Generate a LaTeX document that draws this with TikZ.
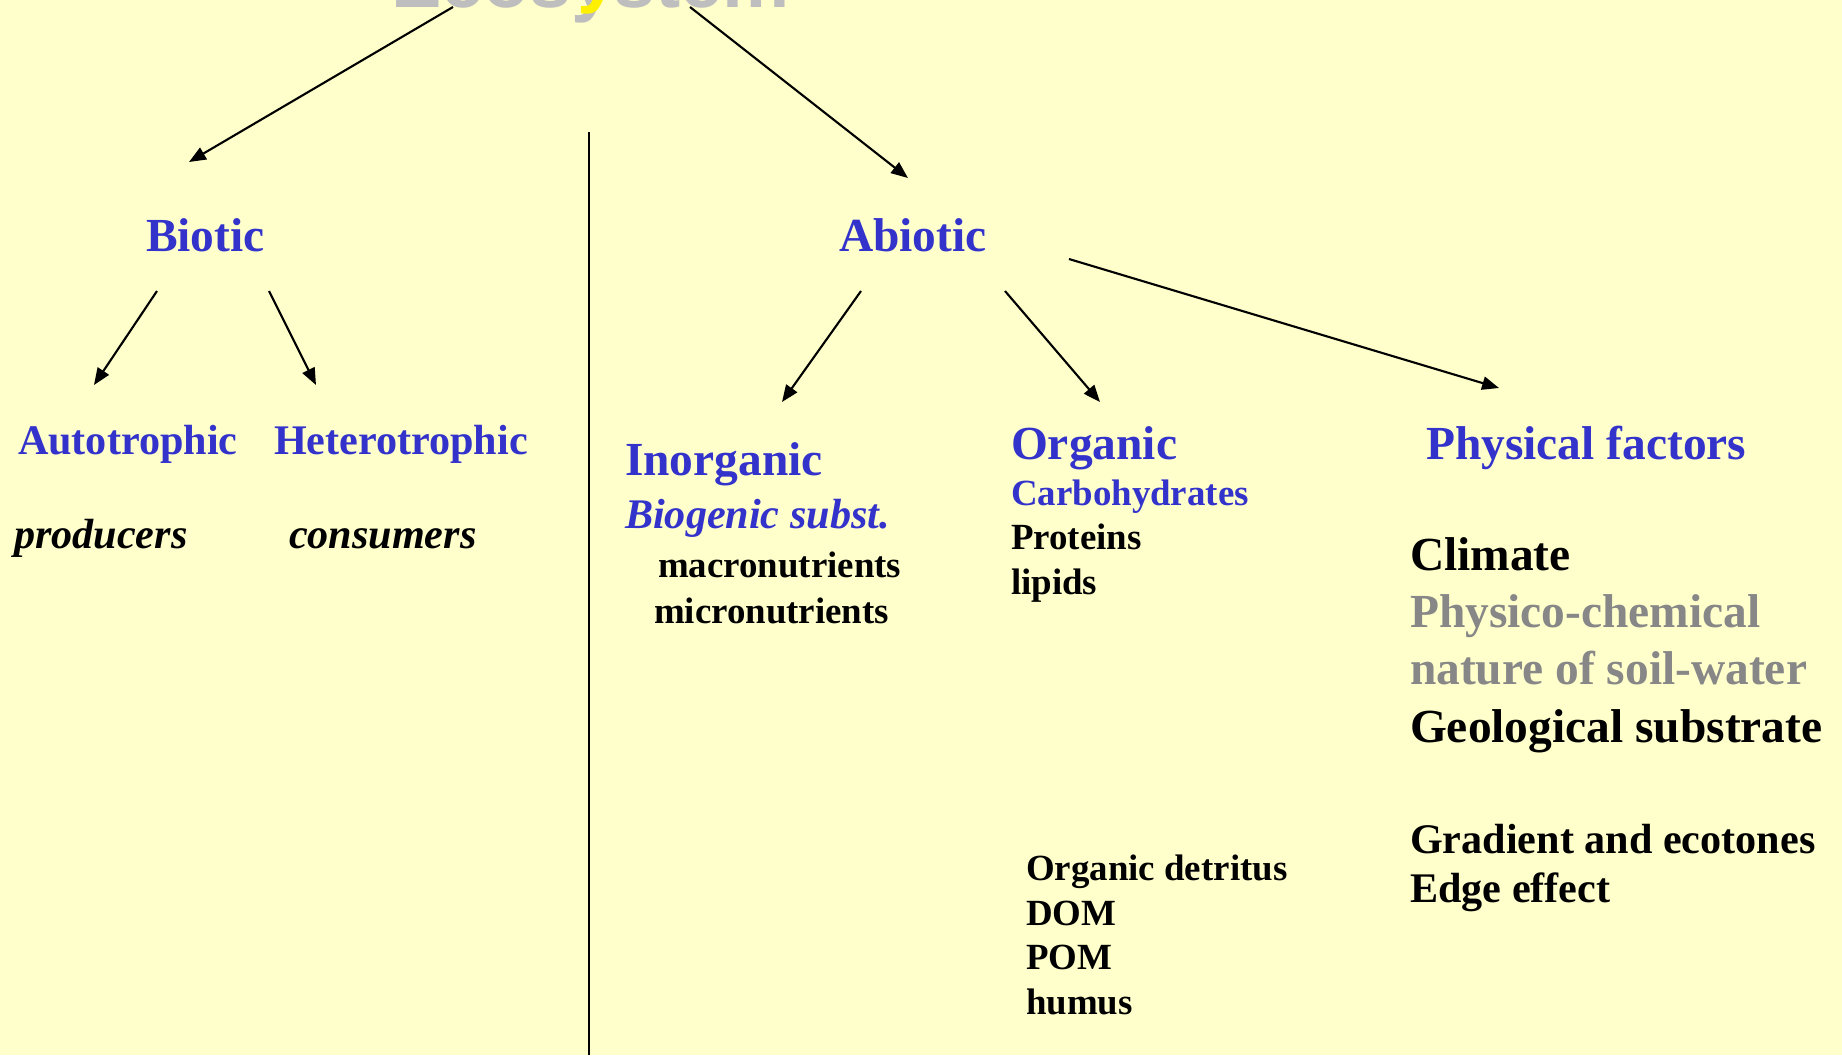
\documentclass[tikz,border=0pt]{standalone}
\usepackage{fontspec}
\setmainfont{Liberation Serif}
\newfontfamily\titlefont{Liberation Sans}
\usetikzlibrary{calc}
\usetikzlibrary{arrows.meta}
\definecolor{slide}{HTML}{FFFFCC}
\definecolor{headblue}{HTML}{3333CC}
\definecolor{softgray}{HTML}{878787}
\definecolor{shadowgray}{HTML}{BEBEBE}
\definecolor{sunyellow}{HTML}{FFF000}
\tikzset{txt/.style={inner sep=0pt,anchor=base west}}
\tikzset{headtext/.style={txt,text=headblue,font=\fontsize{13.5}{16.3}\selectfont\bfseries}}
\tikzset{subtext/.style={txt,font=\fontsize{12}{13.9}\selectfont\bfseries}}
\tikzset{subit/.style={txt,font=\fontsize{12}{13.9}\selectfont\bfseries\itshape}}
\tikzset{itemtext/.style={txt,align=left,font=\fontsize{10.5}{12.66}\selectfont\bfseries}}
\tikzset{facttext/.style={txt,align=left,font=\fontsize{13.5}{16.3}\selectfont\bfseries}}
\tikzset{arrowline/.style={-{Triangle[length=4.8pt,width=3.8pt]}}}

\begin{document}
\begin{tikzpicture}[x=0.1mm,y=-0.1mm,line width=0.6pt]
\useasboundingbox (0,0) rectangle (1842,1055);
\clip (0,0) rectangle (1842,1055);
\fill[slide] (0,0) rectangle (1842,1055);

% title, cut by the top edge
\node[txt,text=shadowgray,font=\titlefont\fontsize{21.5}{24}\selectfont\bfseries] (titleshadow) at (390,7) {Ecosystem};
\node[txt,text=sunyellow,font=\titlefont\fontsize{21.5}{24}\selectfont\bfseries] (title) at (396,-2) {Ecosystem};

% left / right split
\draw (589,132) -- (589,1055);

% biotic side
\node[headtext] (biotic) at (145,251) {Biotic};
\node[subtext,text=headblue] (autotrophic) at (17,454) {Autotrophic};
\node[subtext,text=headblue] (heterotrophic) at (273,454) {Heterotrophic};
\node[subit] (producers) at (13,548) {producers};
\node[subit] (consumers) at (288,548) {consumers};

% abiotic side (multi-line nodes sit on their last line)
\node[headtext] (abiotic) at (838,251) {Abiotic};
\node[headtext] (inorganic) at (624,475) {Inorganic};
\node[subit,text=headblue] (biogenic) at (624,528) {Biogenic subst.};
\node[itemtext] (macro) at (657,577) {macronutrients};
\node[itemtext] (micro) at (653,623) {micronutrients};
\node[headtext] (organic) at (1010,459) {Organic};
\node[itemtext] (compounds) at (1010,594) {\textcolor{headblue}{Carbohydrates}\\Proteins\\lipids};
\node[itemtext] (detritus) at (1025,1014) {Organic detritus\\DOM\\POM\\humus};
\node[headtext] (physical) at (1425,459) {Physical factors};
\node[facttext] (climate) at (1409,742) {Climate\\\textcolor{softgray}{Physico-chemical}\\\textcolor{softgray}{nature of soil-water}\\Geological substrate};
\node[subtext,align=left] (gradient) at (1409,902) {Gradient and ecotones\\Edge effect};

% arrows
\draw[arrowline] ($(title.base west)+(57,9)$) -- ($(biotic.base west)+(44,-89)$);
\draw[arrowline] ($(title.base west)+(294,9)$) -- ($(abiotic.base west)+(70,-73)$);
\draw[arrowline] ($(biotic.base west)+(12,40)$) -- ($(autotrophic.base west)+(77,-69)$);
\draw[arrowline] ($(biotic.base west)+(124,40)$) -- ($(heterotrophic.base west)+(43,-69)$);
\draw[arrowline] ($(abiotic.base west)+(23,40)$) -- ($(inorganic.base west)+(158,-73)$);
\draw[arrowline] ($(abiotic.base west)+(167,40)$) -- ($(organic.base west)+(90,-57)$);
\draw[arrowline] ($(abiotic.base west)+(231,8)$) -- ($(physical.base west)+(74,-71)$);
\end{tikzpicture}
\end{document}
